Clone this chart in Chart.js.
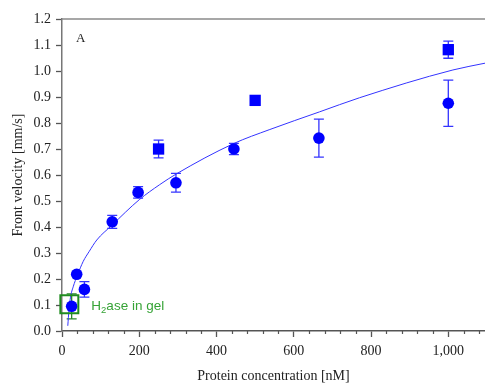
<!DOCTYPE html>
<html>
<head>
<meta charset="utf-8">
<script src="https://cdn.jsdelivr.net/npm/chart.js@4.4.1/dist/chart.umd.min.js"></script>
<style>
  html, body { margin: 0; padding: 0; background: #ffffff; }
  canvas { display: block; }
</style>
</head>
<body>
<canvas id="chart" width="485" height="383"></canvas>
<script>
// Front velocity vs. protein concentration (circles and squares, with ± errors)
const circleX   = [25, 38, 58, 130, 197, 295, 445, 665, 1000];
const circleY   = [0.095, 0.218, 0.16, 0.42, 0.533, 0.57, 0.70, 0.742, 0.876];
const circleErr = [0.048, 0, 0.03, 0.025, 0.022, 0.036, 0.022, 0.073, 0.089];

const squareX   = [250, 500, 1000];
const squareY   = [0.70, 0.887, 1.082];
const squareErr = [0.034, 0, 0.033];

// Fitted trend curve
const fitX = [15, 18, 22, 29, 40, 55, 70, 90, 128, 200, 253, 297, 443, 538, 667, 770, 1012, 1095];
const fitY = [0.02, 0.08, 0.13, 0.17, 0.215, 0.268, 0.305, 0.35, 0.405, 0.505, 0.563, 0.605, 0.72, 0.775, 0.843, 0.897, 1.004, 1.03];

// Hydrogenase-in-gel reference marker
const gelX = [19];
const gelY = [0.103];

const panelLabel = 'A';
const gelLabel = ['H', '2', 'ase in gel'];

const SERIF = "'Liberation Serif', 'Times New Roman', serif";
const SANS = "'Liberation Sans', Arial, sans-serif";
const BLUE = '#0000ff';
const LINE_BLUE = '#3434ff';
const GREEN_BOX = '#1f8c1f';
const GREEN_TEXT = '#36a336';

const toPoints = (xs, ys) => xs.map((x, i) => ({ x: x, y: ys[i] }));

// Error bars, drawn beneath the markers
const errorBars = {
  id: 'errorBars',
  beforeDatasetsDraw(chart) {
    const { ctx, scales: { x, y } } = chart;
    chart.data.datasets.forEach((ds) => {
      if (!ds.errors) return;
      ds.data.forEach((p, i) => {
        const e = ds.errors[i];
        if (!e) return;
        const px = x.getPixelForValue(p.x);
        const top = y.getPixelForValue(p.y + e);
        const bot = y.getPixelForValue(p.y - e);
        const color = (ds.errorColors && ds.errorColors[i]) || LINE_BLUE;
        ctx.save();
        ctx.strokeStyle = color;
        ctx.lineWidth = 1.3;
        ctx.beginPath();
        ctx.moveTo(px, top); ctx.lineTo(px, bot);
        ctx.moveTo(px - 5, top); ctx.lineTo(px + 5, top);
        ctx.moveTo(px - 5, bot); ctx.lineTo(px + 5, bot);
        ctx.stroke();
        ctx.restore();
      });
    });
  }
};

// Frame line, minor ticks and annotations
const decorations = {
  id: 'decorations',
  afterDraw(chart) {
    const { ctx, chartArea: a, scales: { x, y } } = chart;
    ctx.save();
    // top frame line
    ctx.strokeStyle = '#8a8a8a';
    ctx.lineWidth = 1.5;
    ctx.beginPath();
    ctx.moveTo(a.left, a.top);
    ctx.lineTo(a.right, a.top);
    ctx.stroke();

    // minor ticks on the x axis
    ctx.strokeStyle = '#555';
    ctx.lineWidth = 1.2;
    ctx.beginPath();
    for (let v = 40; v <= x.max; v += 40) {
      if (v % 200 === 0) continue;
      const px = Math.round(x.getPixelForValue(v)) + 0.5;
      ctx.moveTo(px, a.bottom);
      ctx.lineTo(px, a.bottom + 3);
    }
    ctx.stroke();

    // panel letter
    ctx.fillStyle = '#222';
    ctx.font = '13px ' + SERIF;
    ctx.textBaseline = 'middle';
    ctx.textAlign = 'left';
    ctx.fillText(panelLabel, a.left + 14, a.top + 20);

    // gel marker label
    const gx = x.getPixelForValue(gelX[0]) + 22;
    const gy = y.getPixelForValue(gelY[0]) + 6;
    ctx.fillStyle = GREEN_TEXT;
    ctx.textBaseline = 'alphabetic';
    ctx.font = '13.5px ' + SANS;
    ctx.fillText(gelLabel[0], gx, gy);
    let cx = gx + ctx.measureText(gelLabel[0]).width;
    ctx.font = '9.5px ' + SANS;
    ctx.fillText(gelLabel[1], cx, gy + 3);
    cx += ctx.measureText(gelLabel[1]).width;
    ctx.font = '13.5px ' + SANS;
    ctx.fillText(gelLabel[2], cx, gy);
    ctx.restore();
  }
};

new Chart(document.getElementById('chart'), {
  type: 'scatter',
  data: {
    datasets: [
      {
        label: 'gel',
        data: toPoints(gelX, gelY),
        pointStyle: 'rect',
        pointRadius: 12.7,
        pointBorderWidth: 2,
        pointBorderColor: GREEN_BOX,
        pointBackgroundColor: 'rgba(0,0,0,0)',
        clip: false,
        order: 0
      },
      {
        label: 'circles',
        data: toPoints(circleX, circleY),
        errors: circleErr,
        errorColors: ['#2a8a2a'],
        pointStyle: 'circle',
        pointRadius: 5.8,
        pointBorderWidth: 0,
        pointBackgroundColor: BLUE,
        order: 1
      },
      {
        label: 'squares',
        data: toPoints(squareX, squareY),
        errors: squareErr,
        pointStyle: 'rect',
        pointRadius: 8,
        pointBorderWidth: 0,
        pointBackgroundColor: BLUE,
        order: 1
      },
      {
        label: 'fit',
        data: toPoints(fitX, fitY),
        showLine: true,
        pointRadius: 0,
        borderColor: LINE_BLUE,
        borderWidth: 1,
        cubicInterpolationMode: 'monotone',
        order: 3
      }
    ]
  },
  options: {
    responsive: false,
    animation: false,
    events: [],
    layout: { autoPadding: false, padding: { top: 19, right: 0, left: 0, bottom: 0 } },
    plugins: { legend: { display: false }, tooltip: { enabled: false } },
    scales: {
      x: {
        type: 'linear',
        min: 0,
        max: 1095,
        afterFit(s) { s.height = 52; s.paddingLeft = 0; s.paddingRight = 0; },
        border: { color: '#555', width: 1.5 },
        grid: { drawOnChartArea: false, tickLength: 6, tickColor: '#555', tickWidth: 1.3 },
        ticks: {
          stepSize: 200,
          includeBounds: false,
          maxRotation: 0,
          padding: 6,
          color: '#222',
          font: { family: SERIF, size: 14 },
          callback: (v) => v.toLocaleString('en-US')
        },
        title: {
          display: true,
          text: 'Protein concentration [nM]',
          color: '#222',
          font: { family: SERIF, size: 14 },
          padding: { top: 0, bottom: -2 }
        }
      },
      y: {
        type: 'linear',
        min: 0,
        max: 1.2,
        afterFit(s) { s.width = 62; },
        border: { color: '#777', width: 1.5 },
        grid: { drawOnChartArea: false, tickLength: 6, tickColor: '#555', tickWidth: 1.3 },
        ticks: {
          stepSize: 0.1,
          padding: 5,
          color: '#222',
          font: { family: SERIF, size: 14 },
          callback: (v) => v.toFixed(1)
        },
        title: {
          display: true,
          text: 'Front velocity [mm/s]',
          color: '#222',
          font: { family: SERIF, size: 14 },
          padding: { top: 10, bottom: 0 }
        }
      }
    }
  },
  plugins: [errorBars, decorations]
});
</script>
</body>
</html>
